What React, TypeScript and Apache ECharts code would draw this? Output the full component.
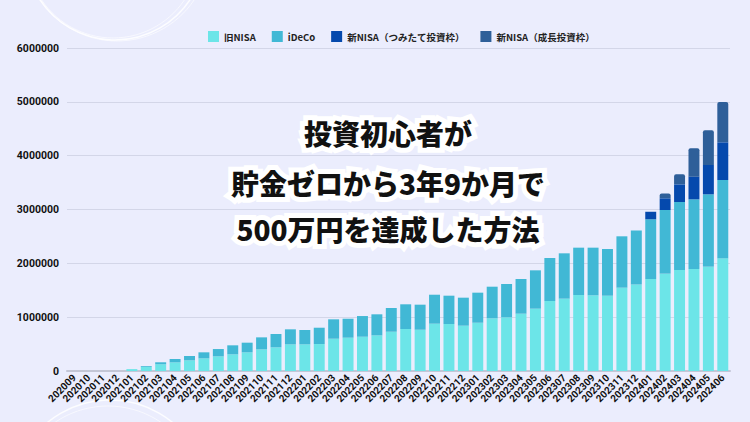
import React, { useEffect, useRef } from "react";
import * as echarts from "echarts";

const months: string[] = [
  "202009", "202010", "202011", "202012",
  "202101", "202102", "202103", "202104", "202105", "202106", "202107", "202108", "202109", "202110", "202111", "202112",
  "202201", "202202", "202203", "202204", "202205", "202206", "202207", "202208", "202209", "202210", "202211", "202212",
  "202301", "202302", "202303", "202304", "202305", "202306", "202307", "202308", "202309", "202310", "202311", "202312",
  "202401", "202402", "202403", "202404", "202405", "202406",
];

const oldNisa: number[] = [
  0, 0, 0, 0,
  35000, 75000, 125000, 160000, 198000, 235000, 272000, 310000, 347000, 402000, 440000, 495000,
  495000, 501000, 600000, 619000, 637000, 662000, 730000, 780000, 767000, 879000, 873000, 842000,
  897000, 979000, 997000, 1065000, 1158000, 1300000, 1344000, 1412000, 1406000, 1399000, 1548000, 1607000,
  1709000, 1808000, 1876000, 1895000, 1938000, 2093000,
];

const ideco: number[] = [
  0, 0, 0, 0,
  0, 15000, 37000, 63000, 81000, 112000, 136000, 167000, 179000, 223000, 247000, 279000,
  267000, 303000, 360000, 352000, 384000, 391000, 440000, 459000, 465000, 538000, 526000, 520000,
  558000, 587000, 619000, 644000, 712000, 799000, 842000, 879000, 885000, 867000, 954000, 1003000,
  1109000, 1183000, 1263000, 1294000, 1344000, 1455000,
];

const newTsumitate: number[] = [
  0, 0, 0, 0,
  0, 0, 0, 0, 0, 0, 0, 0, 0, 0, 0, 0,
  0, 0, 0, 0, 0, 0, 0, 0, 0, 0, 0, 0,
  0, 0, 0, 0, 0, 0, 0, 0, 0, 0, 0, 0,
  140000, 217000, 328000, 421000, 545000, 700000,
];

const newGrowth: number[] = [
  0, 0, 0, 0,
  0, 0, 0, 0, 0, 0, 0, 0, 0, 0, 0, 0,
  0, 0, 0, 0, 0, 0, 0, 0, 0, 0, 0, 0,
  0, 0, 0, 0, 0, 0, 0, 0, 0, 0, 0, 0,
  0, 87000, 186000, 526000, 644000, 749000,
];

const seriesNames: string[] = ["旧NISA", "iDeCo", "新NISA（つみたて投資枠）", "新NISA（成長投資枠）"];
const seriesColors: string[] = ["#6CE5E8", "#41B8D5", "#0549AD", "#2E5F99"];
const titleLines: string[] = ["投資初心者が", "貯金ゼロから3年9か月で", "500万円を達成した方法"];

export default function App() {
  const ref = useRef<HTMLDivElement>(null);

  useEffect(() => {
    if (!ref.current) return;
    const chart = echarts.init(ref.current, undefined, { renderer: "svg" });
    const dataSets = [oldNisa, ideco, newTsumitate, newGrowth];
    const ringStroke = "rgba(255,255,255,0.85)";
    chart.setOption({
      animation: false,
      backgroundColor: "#EBEDFD",
      textStyle: { fontFamily: "Roboto, 'Noto Sans CJK JP', sans-serif" },
      legend: {
        top: 26,
        left: 203,
        itemWidth: 11,
        itemHeight: 11,
        itemGap: 16,
        icon: "rect",
        textStyle: { fontSize: 9.5, fontWeight: "bold", color: "#222", fontFamily: "'Noto Sans CJK JP', Roboto, sans-serif" },
        data: seriesNames,
      },
      grid: { left: 67, right: 20, top: 48, bottom: 51, containLabel: false },
      xAxis: {
        type: "category",
        data: months,
        axisLine: { lineStyle: { color: "#C3C6D6", width: 2 } },
        axisTick: { show: false },
        axisLabel: {
          interval: 0,
          rotate: 45,
          fontSize: 10,
          fontWeight: "bold",
          color: "#111",
          margin: 5,
        },
      },
      yAxis: {
        type: "value",
        min: 0,
        max: 6000000,
        interval: 1000000,
        axisLine: { show: false },
        axisTick: { show: false },
        splitLine: { lineStyle: { color: "#D3D6E8", width: 1 } },
        axisLabel: {
          fontSize: 10.5,
          fontWeight: "bold",
          color: "#111",
          margin: 8,
          formatter: (v: number) => String(v),
        },
      },
      series: seriesNames.map((name, i) => ({
        name,
        type: "bar",
        stack: "total",
        barCategoryGap: "24%",
        itemStyle: { color: seriesColors[i], borderRadius: i === 3 ? [2, 2, 0, 0] : 0 },
        data: dataSets[i],
      })),
      graphic: [
        { type: "circle", shape: { cx: 115, cy: -50, r: 90 }, style: { fill: "none", stroke: ringStroke, lineWidth: 1.5 }, silent: true },
        { type: "circle", shape: { cx: 113, cy: -48, r: 86 }, style: { fill: "none", stroke: "rgba(255,255,255,0.6)", lineWidth: 1 }, silent: true },
        { type: "circle", shape: { cx: 117, cy: -52, r: 93 }, style: { fill: "none", stroke: "rgba(255,255,255,0.6)", lineWidth: 1 }, silent: true },
        { type: "circle", shape: { cx: 110, cy: 498, r: 98 }, style: { fill: "none", stroke: ringStroke, lineWidth: 1.5 }, silent: true },
        { type: "circle", shape: { cx: 108, cy: 500, r: 94 }, style: { fill: "none", stroke: "rgba(255,255,255,0.6)", lineWidth: 1 }, silent: true },
        ...titleLines.map((t, i) => ({
          type: "text",
          x: 388,
          y: [133, 183, 229][i],
          z: 100,
          silent: true,
          style: {
            text: t,
            fontSize: 28,
            fontWeight: 900,
            fontFamily: "'Noto Sans CJK JP', sans-serif",
            fill: "#111",
            stroke: "#ffffff",
            lineWidth: 10,
            textAlign: "center",
            textVerticalAlign: "middle",
          },
        })),
      ],
    });
    return () => chart.dispose();
  }, []);

  return (
    <div
      ref={ref}
      style={{ position: "fixed", left: 0, top: 0, width: 750, height: 422 }}
    />
  );
}
